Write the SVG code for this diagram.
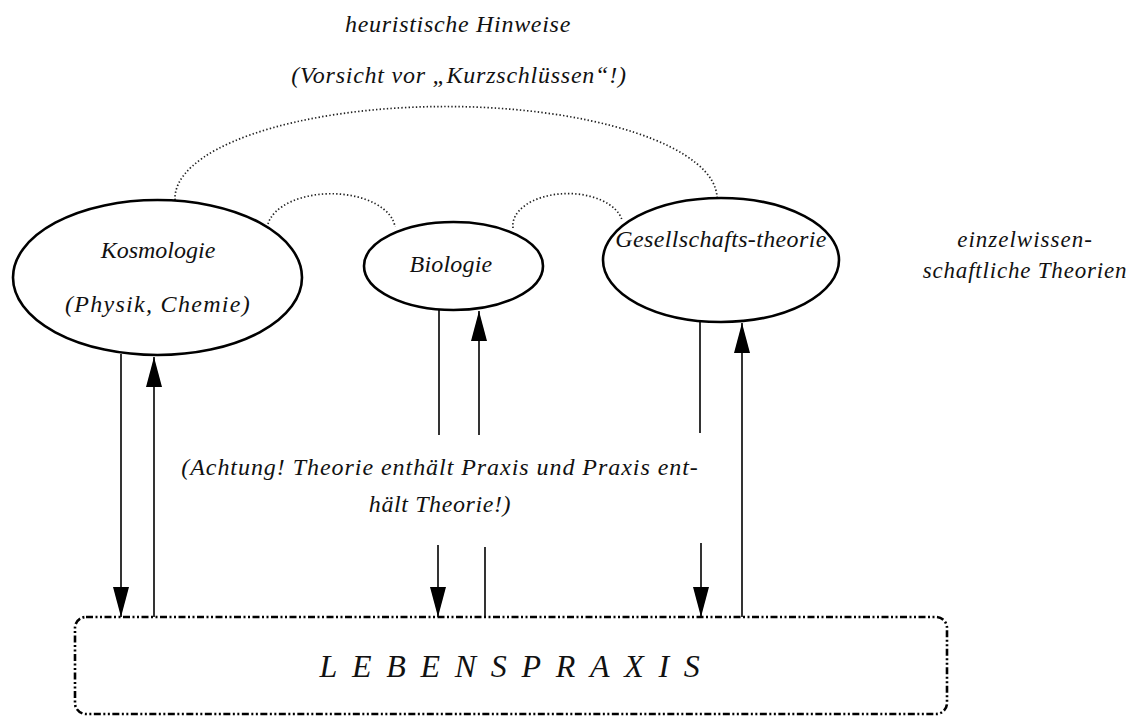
<svg xmlns="http://www.w3.org/2000/svg" width="1136" height="717" viewBox="0 0 1136 717">
<defs>
<style>
.el{fill:#fff;stroke:#000;stroke-width:2.6;}
.dot{fill:none;stroke:#222;stroke-width:1.7;stroke-dasharray:1.4 2.2;}
.ln{stroke:#000;stroke-width:1.6;fill:none;}
.box{fill:#fff;stroke:#000;stroke-width:2.6;stroke-dasharray:7 2.5 2 2.5 2 2.5;}
</style>
<marker id="ah" viewBox="0 0 30 16" refX="30" refY="8" markerWidth="30" markerHeight="16" markerUnits="userSpaceOnUse" orient="auto">
<path d="M0,0 L30,8 L0,16 z" fill="#000"/>
</marker>
</defs>
<rect width="1136" height="717" fill="#fff"/>

<g id="heading">
<text x="458" y="32" font-family="Liberation Serif" font-style="italic" font-size="24" letter-spacing="0.7" text-anchor="middle" fill="#111">heuristische Hinweise</text>
<text x="459" y="83" font-family="Liberation Serif" font-style="italic" font-size="24" letter-spacing="0.75" text-anchor="middle" fill="#111">(Vorsicht vor „Kurzschlüssen“!)</text>
</g>

<g id="connectors">
<path class="dot" d="M175,200 A271,92 0 0 1 717,197"/>
<path class="dot" d="M268,224 A64,36 0 0 1 395,227"/>
<path class="dot" d="M513,228 A55,32 0 0 1 622,220"/>
<line class="ln" x1="121" y1="354" x2="121" y2="617" marker-end="url(#ah)"/>
<line class="ln" x1="154" y1="617" x2="154" y2="357" marker-end="url(#ah)"/>
<line class="ln" x1="439" y1="310" x2="439" y2="435"/>
<line class="ln" x1="479" y1="435" x2="479" y2="311" marker-end="url(#ah)"/>
<line class="ln" x1="438" y1="545" x2="438" y2="617" marker-end="url(#ah)"/>
<line class="ln" x1="485" y1="547" x2="485" y2="617"/>
<line class="ln" x1="700" y1="322" x2="700" y2="433"/>
<line class="ln" x1="742" y1="617" x2="742" y2="323" marker-end="url(#ah)"/>
<line class="ln" x1="701" y1="543" x2="701" y2="617" marker-end="url(#ah)"/>
</g>

<g id="kosmologie">
<ellipse class="el" cx="157.5" cy="277.5" rx="144.5" ry="77.5"/>
<text x="158" y="258" font-family="Liberation Serif" font-style="italic" font-size="24" text-anchor="middle" fill="#111">Kosmologie</text>
<text x="158" y="312" font-family="Liberation Serif" font-style="italic" font-size="24" letter-spacing="1.3" text-anchor="middle" fill="#111">(Physik, Chemie)</text>
</g>

<g id="biologie">
<ellipse class="el" cx="453.5" cy="266" rx="89.5" ry="44"/>
<text x="451" y="272" font-family="Liberation Serif" font-style="italic" font-size="24" letter-spacing="0.2" text-anchor="middle" fill="#111">Biologie</text>
</g>

<g id="gesellschaft">
<ellipse class="el" cx="721" cy="260" rx="118" ry="62"/>
<text x="721" y="247" font-family="Liberation Serif" font-style="italic" font-size="24" letter-spacing="0.35" text-anchor="middle" fill="#111">Gesellschafts-theorie</text>
</g>

<g id="einzelwissenschaft">
<text x="1025" y="247" font-family="Liberation Serif" font-style="italic" font-size="23" letter-spacing="1" text-anchor="middle" fill="#111">einzelwissen-</text>
<text x="1025" y="278" font-family="Liberation Serif" font-style="italic" font-size="23" letter-spacing="0.8" text-anchor="middle" fill="#111">schaftliche Theorien</text>
</g>

<g id="achtung">
<text x="440" y="475" font-family="Liberation Serif" font-style="italic" font-size="24" letter-spacing="0.95" text-anchor="middle" fill="#111">(Achtung! Theorie enthält Praxis und Praxis ent-</text>
<text x="440" y="512" font-family="Liberation Serif" font-style="italic" font-size="24" letter-spacing="0.6" text-anchor="middle" fill="#111">hält Theorie!)</text>
</g>

<g id="lebenspraxis">
<rect class="box" x="75" y="617" width="872" height="97" rx="11" ry="11"/>
<text x="517" y="677" font-family="Liberation Serif" font-style="italic" font-size="32" letter-spacing="14.7" text-anchor="middle" fill="#111">LEBENSPRAXIS</text>
</g>
</svg>
